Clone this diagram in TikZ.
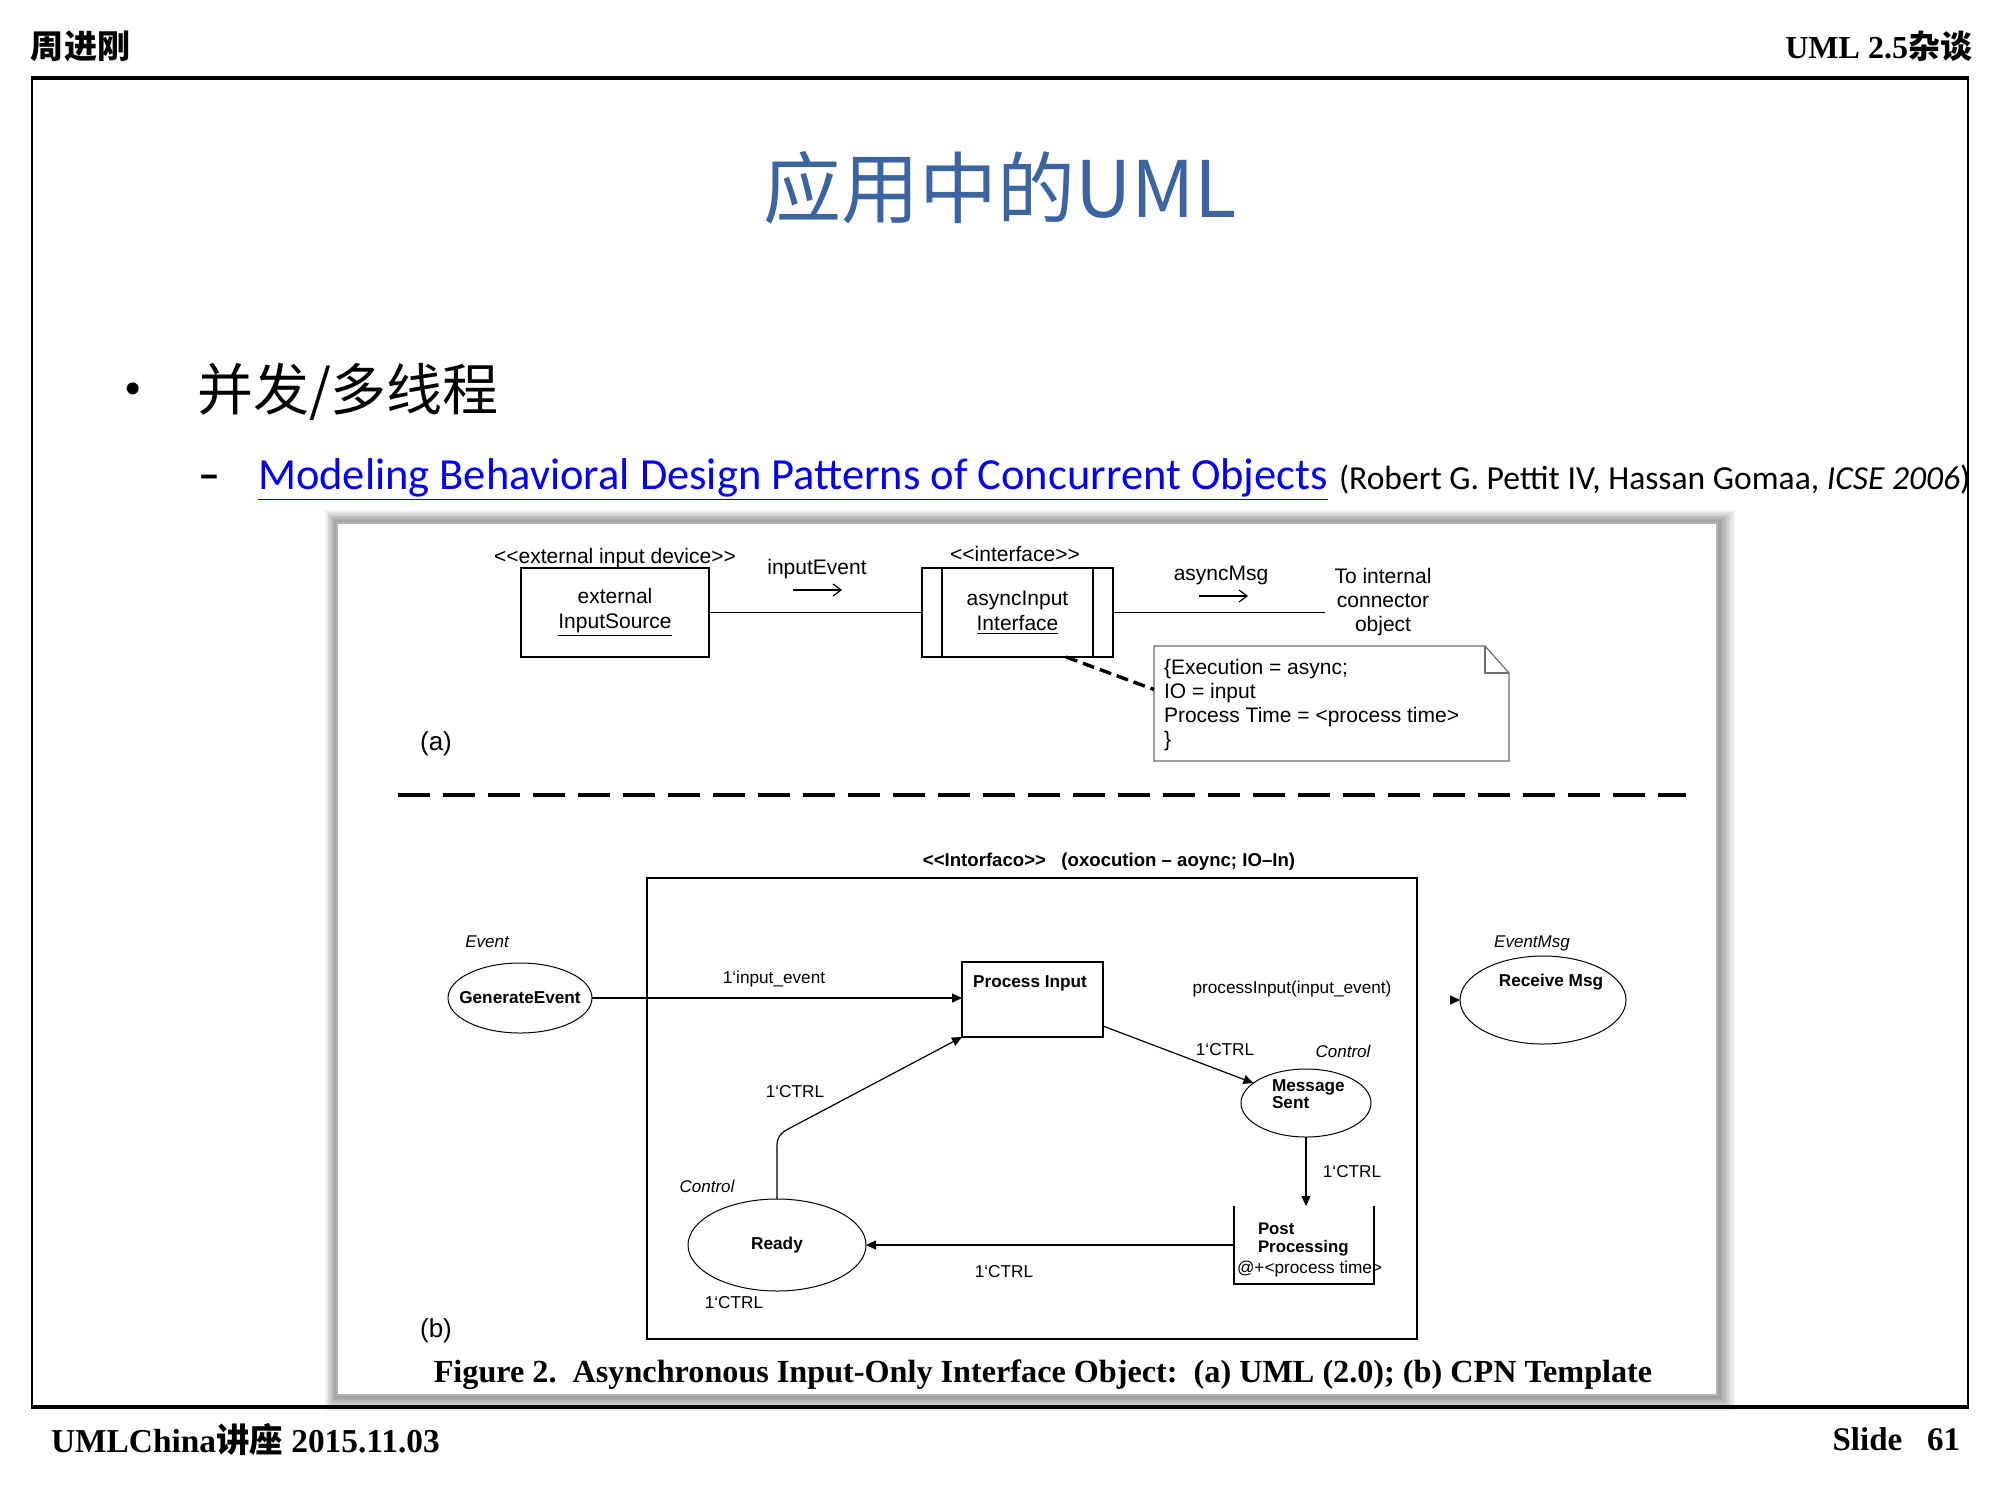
\documentclass[tikz,border=0pt]{standalone}
\usepackage{fontspec}
\setmainfont{Liberation Sans}
\newfontfamily\cjk{Noto Sans CJK SC}
\newfontfamily\tnr{Liberation Serif}
\newfontfamily\calib{Carlito}
\usetikzlibrary{arrows.meta,calc,shapes.geometric}
\definecolor{titleblue}{RGB}{59,100,160}
\definecolor{linkblue}{RGB}{0,0,240}
\definecolor{notegray}{RGB}{110,110,110}
\tikzset{
  every node/.style={inner sep=0pt, outer sep=0pt},
  fa/.style={font=\fontsize{10.5}{12.5}\selectfont},
  fnote/.style={font=\fontsize{10.5}{12}\selectfont},
  fb/.style={font=\fontsize{8.6}{10}\selectfont},
  fbb/.style={font=\bfseries\fontsize{8.6}{9}\selectfont},
  fbi/.style={font=\itshape\fontsize{8.5}{10}\selectfont},
  umlbox/.style={draw, line width=0.7pt, minimum width=#1, minimum height=44.5pt, align=center, font=\fontsize{10.5}{12.5}\selectfont},
  place/.style={draw, ellipse, line width=0.5pt},
  trans/.style={line width=0.6pt},
  arrB/.style={line width=0.6pt, -{Triangle[length=5pt,width=4.5pt]}},
  barb/.style={line width=0.6pt, -{Straight Barb[length=4pt,width=6pt]}},
}
\begin{document}
\begin{tikzpicture}[x=0.5pt,y=-0.5pt]
\useasboundingbox (0,0) rectangle (2000,1500);
\fill[white] (0,0) rectangle (2000,1500);

% header
\node[anchor=west, font=\cjk\bfseries\fontsize{16.5}{18}\selectfont] (hdl) at (31,46) {周进刚};
\node[anchor=east] (hdr) at (1972,46) {{\tnr\bfseries\fontsize{16}{18}\selectfont UML 2.5}{\cjk\bfseries\fontsize{16}{18}\selectfont 杂谈}};

% title and bullets
\node[font=\cjk\fontsize{39}{44}\selectfont, text=titleblue] (title) at (1000,188) {应用中的UML};
\node[font=\fontsize{22}{24}\selectfont] (bul) at (133,393) {•};
\node[anchor=west, font=\cjk\fontsize{28}{32}\selectfont] (b1) at (197,392) {并发/多线程};
\node[anchor=base west, font=\calib\bfseries\fontsize{22}{26}\selectfont] (dash) at (198,489) {–};
\node[anchor=base west, font=\calib\fontsize{22.25}{26}\selectfont, text=linkblue] (link) at (258,489) {\underline{Modeling Behavioral Design Patterns of Concurrent Objects}};
\node[anchor=base west, font=\calib\fontsize{16.8}{20}\selectfont] (cite) at (1339,489) {(Robert G. Pettit IV, Hassan Gomaa, \textit{ICSE 2006})};

% figure with shadow
\foreach \i in {1,...,9} {
  \fill[black, opacity=0.05] (337-\i*1.3, 523-\i*1.4) rectangle (1717+\i*2, 1395+\i*1.8);
}
\fill[white] (337,523) rectangle (1717,1395);
\draw[gray!60, line width=1.2pt] (337,523) rectangle (1717,1395);

% frame
\draw[line width=2pt] (31,78) -- (1969,78);
\draw[line width=2pt] (31,1407) -- (1969,1407);
\draw[line width=0.9pt] (32,78) -- (32,1407);
\draw[line width=0.9pt] (1968,78) -- (1968,1407);

% ---------- (a) ----------
\node[fa, anchor=base] (st1) at (615,563) {<{}<external input device>{}>};
\node[umlbox=94pt] (ext) at (615,612.5) {external\\ \underline{InputSource}};
\node[fa, anchor=base] (st2) at (1015,561) {<{}<interface>{}>};
\node[umlbox=95.5pt] (intf) at (1017.5,612.5) {asyncInput\\ \underline{Interface}};
\draw[line width=0.7pt] ([xshift=10pt]intf.north west) -- ([xshift=10pt]intf.south west);
\draw[line width=0.7pt] ([xshift=-10pt]intf.north east) -- ([xshift=-10pt]intf.south east);
\draw[line width=0.7pt] (ext.east) -- (intf.west);
\coordinate (tocon) at (1325,612.5);
\draw[line width=0.7pt] (intf.east) -- (tocon);
\node[fa, anchor=base] (ie) at (817,574) {inputEvent};
\coordinate (ie1) at (793,590);
\coordinate (ie2) at (842,590);
\draw[barb] (ie1) -- (ie2);
\node[fa, anchor=base] (am) at (1221,580) {asyncMsg};
\coordinate (am1) at (1199,596);
\coordinate (am2) at (1248,596);
\draw[barb] (am1) -- (am2);
\node[fa, anchor=north, align=center, font=\fontsize{10.5}{12}\selectfont] (toint) at (1383,568) {To internal\\connector\\object};

\node[minimum width=177.5pt, minimum height=57.5pt] (note) at (1331.5,703.5) {};
\draw[notegray, line width=0.6pt] (note.north west) -- ($(note.north east)+(-24,0)$) -- ($(note.north east)+(0,27)$) -- (note.south east) -- (note.south west) -- cycle;
\draw[notegray, line width=0.6pt] ($(note.north east)+(-24,0)$) |- ($(note.north east)+(0,27)$);
\node[fnote, anchor=north west, align=left] (notetxt) at (1164,659) {\{Execution = async;\\IO = input\\Process Time = <process time>\\\}};
\draw[line width=1.7pt, dash pattern=on 6pt off 3pt] ([xshift=-23.5pt]intf.south east) -- ([yshift=7pt]note.west);

\node[anchor=base, font=\fontsize{13}{15}\selectfont] (la) at (436,750) {(a)};
\coordinate (sepL) at (398,795);
\coordinate (sepR) at (1686,795);
\draw[line width=2pt, dash pattern=on 16pt off 6.5pt] (sepL) -- (sepR);

% ---------- (b) ----------
\node[anchor=base, font=\bfseries\fontsize{9.3}{10}\selectfont] (ifh) at (1109,866) {<{}<Intorfaco>{}>\ \ \ (oxocution – aoync; IO–In)};
\node[draw, line width=0.7pt, minimum width=385pt, minimum height=230.5pt] (cpn) at (1032,1108.5) {};

\node[fbi, anchor=base] (evl) at (487,947) {Event};
\node[place, minimum width=72pt, minimum height=35pt, label={[fbb]center:GenerateEvent}] (ge) at (520,998) {};
\node[draw, trans, minimum width=70.5pt, minimum height=37.5pt] (pi) at (1032.5,999.5) {};
\node[fbb, anchor=base] (pit) at (1030,987) {Process Input};
\node[fb, anchor=base] (l1) at (774,983) {1‘input\_event};
\node[fb, anchor=base] (pif) at (1292,993) {processInput(input\_event)};

\node[fbi, anchor=base] (emsg) at (1532,947) {EventMsg};
\node[place, minimum width=83pt, minimum height=44pt] (rm) at (1543,1000) {};
\node[fbb, anchor=base] (rmt) at (1551,986) {Receive Msg};

\node[fb, anchor=base] (l2) at (1225,1055) {1‘CTRL};
\node[fbi, anchor=base] (c1) at (1343,1057) {Control};
\node[place, minimum width=65pt, minimum height=34pt] (ms) at (1306,1103) {};
\node[anchor=north west, align=left, font=\bfseries\fontsize{8.6}{8.4}\selectfont] (mst) at (1272,1080) {Message\\Sent};

\node[fb, anchor=base] (l3) at (1352,1177) {1‘CTRL};
\node[minimum width=70pt, minimum height=39pt] (pp) at (1304,1245) {};
\draw[trans] (pp.north west) -- (pp.south west) -- (pp.south east) -- (pp.north east);
\node[anchor=north west, align=left, font=\bfseries\fontsize{8.4}{9}\selectfont] (ppt) at (1258,1223) {Post\\Processing};
\node[fb, anchor=base west] (ppt2) at (1237,1273) {@+<process time>};

\node[fbi, anchor=base] (c2) at (707,1192) {Control};
\node[place, minimum width=89pt, minimum height=46pt, label={[fbb]center:Ready}] (rd) at (777,1245) {};
\node[fb, anchor=base] (l4) at (1004,1277) {1‘CTRL};
\node[fb, anchor=base] (l5) at (734,1308) {1‘CTRL};
\node[fb, anchor=base] (l6) at (795,1097) {1‘CTRL};

\draw[arrB] (ge.east) -- (ge.east -| pi.west);
\draw[arrB] ([yshift=5.5pt]pi.south east) -- (ms);
\draw[arrB] (ms.south) -- (ms.south |- pp.north);
\draw[arrB] (pp.west) -- (rd.east);
\draw[arrB] (rd.north) -- ++(0,-53) .. controls +(0,-10) and +(-8,4) .. ++(13,-18) -- (pi.south west);
\draw[arrB] ([xshift=-5pt]rm.west) -- (rm.west);

\node[anchor=base, font=\fontsize{13}{15}\selectfont] (lb) at (436,1337) {(b)};
\node[anchor=base, font=\tnr\bfseries\fontsize{16.1}{18}\selectfont] (cap) at (1043,1382) {Figure 2.\ \ Asynchronous Input-Only Interface Object:\ \ (a) UML (2.0); (b) CPN Template};

% footer
\node[anchor=west, font=\tnr\bfseries\fontsize{16.7}{18}\selectfont] (fl) at (51,1439) {UMLChina{\cjk\bfseries 讲座} 2015.11.03};
\node[anchor=east, font=\tnr\bfseries\fontsize{16.5}{18}\selectfont] (fr) at (1960,1439) {Slide\ \ \ 61};
\end{tikzpicture}
\end{document}
